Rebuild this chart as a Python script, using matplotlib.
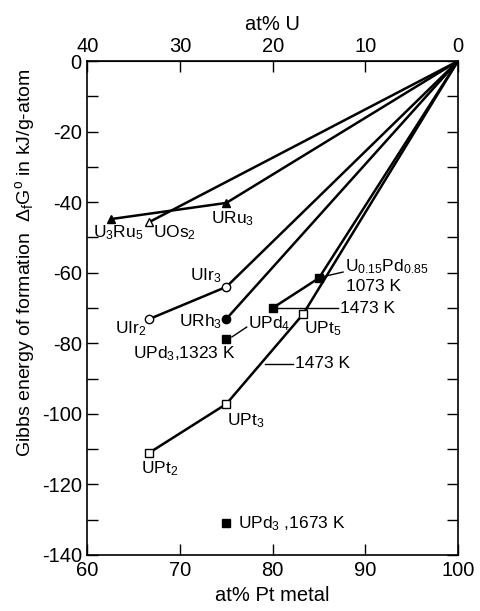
import matplotlib
matplotlib.use("Agg")
import matplotlib.pyplot as plt
from matplotlib.ticker import MultipleLocator

plt.rcParams['font.family'] = ['Liberation Sans', 'DejaVu Sans']
plt.rcParams['mathtext.fontset'] = 'custom'
plt.rcParams['mathtext.rm'] = 'Liberation Sans'
plt.rcParams['mathtext.it'] = 'Liberation Sans'
plt.rcParams['mathtext.default'] = 'regular'
plt.rcParams['axes.unicode_minus'] = False

# ---- data (at% Pt metal, Gibbs energy kJ/g-atom) ----
ru_x = [62.5, 75.0, 100.0]
ru_y = [-44.8, -40.2, 0.0]
os_x = [66.7, 100.0]
os_y = [-45.6, 0.0]
ir_x = [66.7, 75.0, 100.0]
ir_y = [-73.1, -64.0, 0.0]
rh_x = [75.0, 100.0]
rh_y = [-73.1, 0.0]
pd_x = [80.0, 85.0, 100.0]
pd_y = [-70.0, -61.5, 0.0]
pt_x = [66.7, 75.0, 83.3, 100.0]
pt_y = [-111.0, -97.2, -71.7, 0.0]
upd3_x = [75.0, 75.0]
upd3_y = [-78.8, -131.0]

x_ticks = [60, 70, 80, 90, 100]
top_tick_labels = ['40', '30', '20', '10', '0']
y_ticks = [0, -20, -40, -60, -80, -100, -120, -140]

fig = plt.figure(figsize=(4.8, 6.11), dpi=100)
ax = fig.add_axes([0.182, 0.0917, 0.772, 0.8083])

lw = 1.8
ms = 6
kw = dict(color='black', lw=lw, solid_capstyle='round', zorder=2)
ax.plot(ru_x, ru_y, **kw)
ax.plot(os_x, os_y, **kw)
ax.plot(ir_x, ir_y, **kw)
ax.plot(rh_x, rh_y, **kw)
ax.plot(pd_x, pd_y, **kw)
ax.plot(pt_x, pt_y, **kw)

mk = dict(ls='none', ms=ms, mec='black', mew=1.0, zorder=3)
ax.plot(ru_x[:-1], ru_y[:-1], marker='^', mfc='black', **mk)
ax.plot(os_x[:-1], os_y[:-1], marker='^', mfc='white', **mk)
ax.plot(ir_x[:-1], ir_y[:-1], marker='o', mfc='white', **mk)
ax.plot(rh_x[:-1], rh_y[:-1], marker='o', mfc='black', **mk)
ax.plot(pd_x[:-1], pd_y[:-1], marker='s', mfc='black', **mk)
ax.plot(pt_x[:-1], pt_y[:-1], marker='s', mfc='white', **mk)
ax.plot(upd3_x, upd3_y, marker='s', mfc='black', **mk)

# leader lines
lk = dict(color='black', lw=1.0, zorder=1)
ax.plot([75.6, 77.2], [-78.2, -75.4], **lk)
ax.plot([84.8, 87.6], [-61.5, -59.8], **lk)
ax.plot([80.0, 87.1], [-70.0, -70.0], **lk)
ax.plot([79.2, 82.2], [-85.8, -85.8], **lk)

fs = 12.5
tk = dict(fontsize=fs, color='black')
ax.text(60.6, -46.0, 'U$_3$Ru$_5$', va='top', ha='left', **tk)
ax.text(67.1, -46.0, 'UOs$_2$', va='top', ha='left', **tk)
ax.text(73.4, -42.0, 'URu$_3$', va='top', ha='left', **tk)
ax.text(74.5, -58.2, 'UIr$_3$', va='top', ha='right', **tk)
ax.text(66.4, -73.2, 'UIr$_2$', va='top', ha='right', **tk)
ax.text(74.5, -71.2, 'URh$_3$', va='top', ha='right', **tk)
ax.text(77.3, -71.8, 'UPd$_4$', va='top', ha='left', **tk)
ax.text(64.9, -80.3, 'UPd$_3$,1323 K', va='top', ha='left', **tk)
ax.text(87.8, -55.6, 'U$_{0.15}$Pd$_{0.85}$', va='top', ha='left', **tk)
ax.text(87.9, -61.8, '1073 K', va='top', ha='left', **tk)
ax.text(87.3, -70.0, '1473 K', va='center', ha='left', **tk)
ax.text(83.4, -73.2, 'UPt$_5$', va='top', ha='left', **tk)
ax.text(82.4, -85.8, '1473 K', va='center', ha='left', **tk)
ax.text(75.1, -99.2, 'UPt$_3$', va='top', ha='left', **tk)
ax.text(65.8, -112.8, 'UPt$_2$', va='top', ha='left', **tk)
ax.text(76.3, -131.0, 'UPd$_3$ ,1673 K', va='center', ha='left', **tk)

ax.set_xlim(60, 100)
ax.set_ylim(-140, 0)
ax.set_xticks(x_ticks)
ax.set_yticks(y_ticks)
ax.yaxis.set_minor_locator(MultipleLocator(10))
ax.tick_params(which='both', direction='in', length=8, width=1.0,
               top=False, right=True, labelsize=14.5, pad=4)
for s in ax.spines.values():
    s.set_linewidth(1.2)

sec = ax.secondary_xaxis('top')
sec.set_xticks(x_ticks)
sec.set_xticklabels(top_tick_labels)
sec.tick_params(direction='in', length=8, width=1.0, labelsize=14.5, pad=4)
sec.set_xlabel('at% U', fontsize=14.5, labelpad=5)

ax.set_xlabel('at% Pt metal', fontsize=14.5, labelpad=5)
ax.set_ylabel('Gibbs energy of formation  $\\Delta_f$G$^o$ in kJ/g-atom',
              fontsize=14)
ax.yaxis.set_label_coords(-0.136, 0.592)

fig.savefig('out.png', dpi=100)
